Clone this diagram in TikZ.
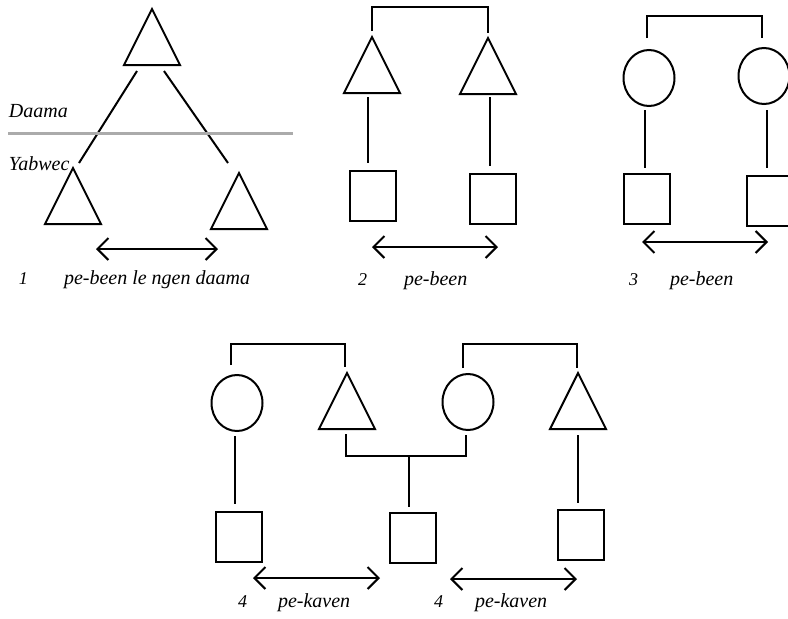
\documentclass[tikz,border=0pt]{standalone}
\usepackage{fontspec}
\setmainfont{Liberation Serif}
\usetikzlibrary{shapes.geometric,arrows.meta,calc}
\begin{document}
\begin{tikzpicture}[x=1pt,y=-1pt,line width=2pt,
  tri/.style={draw, shape=isosceles triangle, shape border rotate=90, isosceles triangle stretches, minimum width=56pt, minimum height=56pt, inner sep=0pt, outer sep=0pt, anchor=apex},
  fem/.style={draw, ellipse, minimum width=51pt, minimum height=56pt, inner sep=0pt, outer sep=0pt},
  sq/.style={draw, rectangle, minimum width=46pt, minimum height=50pt, inner sep=0pt, outer sep=0pt},
  rel/.style={{Straight Barb[length=11pt,width=22pt]}-{Straight Barb[length=11pt,width=22pt]}},
  lab/.style={font=\fontsize{20}{24}\selectfont\itshape, anchor=base west, inner sep=0pt},
  num/.style={font=\fontsize{18}{20}\selectfont\itshape, anchor=base west, inner sep=0pt},
  layer/.style={draw=black!33, line width=3pt}
]
\useasboundingbox (0,0) rectangle (788,619);
\clip (0,0) rectangle (788,619);

% ---------- Diagram 1 ----------
\node[tri] (T1a) at (152,9) {};
\node[tri] (T1b) at (73,168) {};
\node[tri] (T1c) at (239,173) {};
\draw ($(T1a.left corner)+(13,6)$) -- ($(T1b.apex)+(6,-5)$);
\draw ($(T1a.right corner)+(-16,6)$) -- ($(T1c.apex)+(-11,-10)$);
\coordinate (G1) at (8,133);
\coordinate (G2) at (293,133);
\draw[layer] (G1) -- (G2);
\node[lab] (Ld) at (8,117) {Daama};
\node[lab] (Ly) at (8,170) {Yabwec};
\draw[rel] ($(T1b.south)+(23,25)$) -- ($(T1c.south)+(-21,20)$);
\node[num] (N1) at (18,284) {1};
\node[lab] (L1) at (63,284) {pe-been le ngen daama};

% ---------- Diagram 2 ----------
\node[tri] (T2a) at (372,37) {};
\node[tri] (T2b) at (488,38) {};
\node[sq] (S2a) at (373,196) {};
\node[sq] (S2b) at (493,199) {};
\draw ($(T2a.apex)+(0,-6)$) |- ($(T2b.apex)+(0,-31)$) -- ($(T2b.apex)+(0,-5)$);
\draw ($(T2a.south)+(-4,4)$) -- ($(S2a.north)+(-5,-8)$);
\draw ($(T2b.south)+(2,3)$) -- ($(S2b.north)+(-3,-8)$);
\draw[rel] ($(S2a.south)+(-1,26)$) -- ($(S2b.south)+(5,23)$);
\node[num] (N2) at (357,285) {2};
\node[lab] (L2) at (403,285) {pe-been};

% ---------- Diagram 3 ----------
\node[fem] (C3a) at (649,78) {};
\node[fem] (C3b) at (764,76) {};
\node[sq] (S3a) at (647,199) {};
\node[sq] (S3b) at (770,201) {};
\draw ($(C3a.north)+(-2,-12)$) |- ($(C3b.north)+(-2,-32)$) -- ($(C3b.north)+(-2,-10)$);
\draw ($(C3a.south)+(-4,4)$) -- ($(S3a.north)+(-2,-6)$);
\draw ($(C3b.south)+(3,6)$) -- ($(S3b.north)+(-3,-8)$);
\draw[rel] ($(S3a.south)+(-5,18)$) -- ($(S3b.south)+(-2,16)$);
\node[num] (N3) at (628,285) {3};
\node[lab] (L3) at (669,285) {pe-been};

% ---------- Diagram 4 ----------
\node[fem] (C4a) at (237,403) {};
\node[tri] (T4a) at (347,373) {};
\node[fem] (C4b) at (468,402) {};
\node[tri] (T4b) at (578,373) {};
\node[sq] (S4a) at (239,537) {};
\node[sq] (S4b) at (413,538) {};
\node[sq] (S4c) at (581,535) {};
% marriage brackets
\draw ($(C4a.north)+(-6,-10)$) |- ($(T4a.apex)+(-2,-29)$) -- ($(T4a.apex)+(-2,-6)$);
\draw ($(C4b.north)+(-5,-6)$) |- ($(T4b.apex)+(-1,-29)$) -- ($(T4b.apex)+(-1,-5)$);
% descent lines
\draw ($(C4a.south)+(-2,5)$) -- ($(S4a.north)+(-4,-8)$);
\draw ($(T4b.south)+(0,6)$) -- ($(S4c.north)+(-3,-7)$);
\coordinate (M1) at (409,456);
\draw ($(T4a.south)+(-1,5)$) |- (M1) -| ($(C4b.south)+(-2,5)$);
\draw (M1) -- ($(S4b.north)+(-4,-6)$);
% relations
\draw[rel] ($(S4a.south)+(14,16)$) -- ($(S4b.south)+(-33,15)$);
\draw[rel] ($(S4b.south)+(37,16)$) -- ($(S4c.south)+(-4,19)$);
\node[num] (N4a) at (237,607) {4};
\node[lab] (L4a) at (277,607) {pe-kaven};
\node[num] (N4b) at (433,607) {4};
\node[lab] (L4b) at (474,607) {pe-kaven};
\end{tikzpicture}
\end{document}
